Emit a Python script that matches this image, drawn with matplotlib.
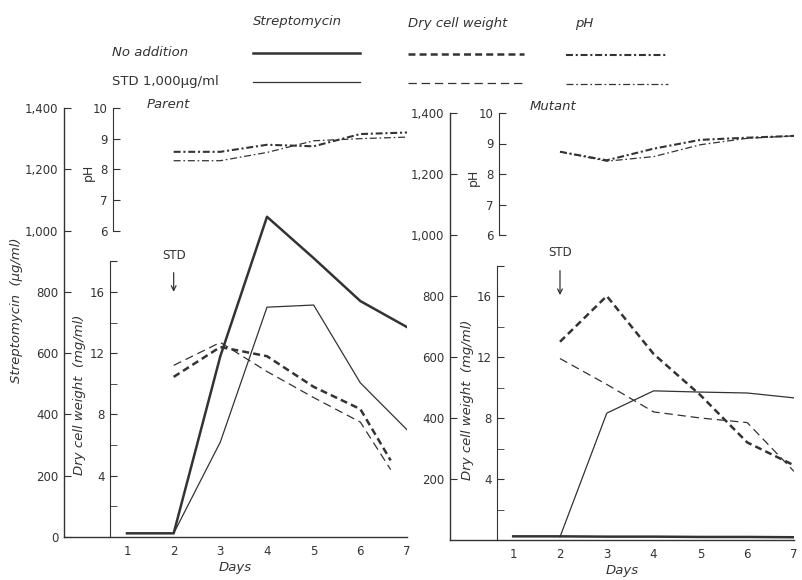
import matplotlib
matplotlib.use('Agg')
import matplotlib.pyplot as plt
from matplotlib.lines import Line2D

# ---- data ----
days = [1, 2, 3, 4, 5, 6, 7]
days_std = [2, 3, 4, 5, 6, 7]
days_dcw_parent = [2, 3, 4, 5, 6, 6.65]

parent_strep_none = [12, 12, 590, 1045, 910, 770, 685]
parent_strep_std = [12, 310, 750, 757, 503, 350]
parent_dcw_none = [10.45, 12.4, 11.8, 9.8, 8.35, 5.0]
parent_dcw_std = [11.2, 12.7, 10.8, 9.1, 7.5, 4.4]
parent_ph_none = [8.57, 8.57, 8.80, 8.75, 9.15, 9.20]
parent_ph_std = [8.28, 8.28, 8.55, 8.93, 9.00, 9.05]

mutant_strep_none = [12, 12, 11, 11, 10, 10, 9]
mutant_strep_std = [10, 416, 489, 485, 482, 466]
mutant_dcw_none = [13.0, 16.0, 12.2, 9.5, 6.4, 4.9]
mutant_dcw_std = [11.9, 10.2, 8.4, 8.0, 7.7, 4.5]
mutant_ph_none = [8.73, 8.45, 8.83, 9.12, 9.19, 9.25]
mutant_ph_std = [8.73, 8.42, 8.57, 8.96, 9.17, 9.25]

strep_ticks = [0, 200, 400, 600, 800, 1000, 1200, 1400]
dcw_ticks = [4, 8, 12, 16]
ph_ticks = [6, 7, 8, 9, 10]

INK = '#333333'
plt.rcParams['lines.scale_dashes'] = False
plt.rcParams['font.family'] = 'DejaVu Sans'

THICK, THIN = 1.8, 0.9
DASH_THICK = (0, (5, 3))
DASH_THIN = (0, (6, 3.5))
DOT_THICK = (0, (5, 2, 1.5, 2))
DOT_THIN = (0, (5, 2, 1.2, 2))

fig = plt.figure(figsize=(8.02, 5.80), dpi=100)


def setup_panel(rect, dcw_pos, ph_pos, show_zero):
    ax = fig.add_axes(rect)
    ax.set_xlim(-0.35, 7.0)
    ax.set_ylim(0, 1400)
    for s in ['top', 'right']:
        ax.spines[s].set_visible(False)
    for s in ['left', 'bottom']:
        ax.spines[s].set_color(INK)
        ax.spines[s].set_linewidth(1.0)
    ax.set_xticks(days)
    ticks = strep_ticks if show_zero else strep_ticks[1:]
    ax.set_yticks(ticks)
    ax.set_yticklabels([f'{t:,}' for t in ticks])
    ax.tick_params(axis='y', direction='in', length=5, pad=4, labelsize=8.5, colors=INK)
    ax.tick_params(axis='x', direction='in', length=0, pad=6, labelsize=8.5, colors=INK)
    ax.set_xlabel('Days', fontsize=9.5, style='italic', color=INK, labelpad=2)

    ax_dcw = ax.twinx()
    ax_dcw.set_ylim(0, 28)
    for s in ['top', 'right', 'bottom']:
        ax_dcw.spines[s].set_visible(False)
    ax_dcw.spines['left'].set_visible(True)
    ax_dcw.spines['left'].set_position(('axes', dcw_pos))
    ax_dcw.spines['left'].set_bounds(0, 18)
    ax_dcw.spines['left'].set_color(INK)
    ax_dcw.yaxis.set_ticks_position('left')
    ax_dcw.set_yticks(dcw_ticks + [18])
    ax_dcw.set_yticklabels([str(t) for t in dcw_ticks] + [''])
    ax_dcw.set_yticks([2, 6, 10, 14], minor=True)
    ax_dcw.tick_params(axis='y', which='both', direction='in', length=5, pad=4,
                       labelsize=8.5, colors=INK)

    ax_ph = ax.twinx()
    ax_ph.set_ylim(-4, 10)
    for s in ['top', 'right', 'bottom']:
        ax_ph.spines[s].set_visible(False)
    ax_ph.spines['left'].set_visible(True)
    ax_ph.spines['left'].set_position(('axes', ph_pos))
    ax_ph.spines['left'].set_bounds(6, 10)
    ax_ph.spines['left'].set_color(INK)
    ax_ph.yaxis.set_ticks_position('left')
    ax_ph.set_yticks(ph_ticks)
    ax_ph.tick_params(axis='y', direction='in', length=5, pad=4, labelsize=8.5, colors=INK)
    return ax, ax_dcw, ax_ph


# ---- Parent ----
axL, dcwL, phL = setup_panel([64 / 802, 43 / 580, 343 / 802, 429 / 580], 0.134, 0.143, True)
axL.plot(days, parent_strep_none, color=INK, lw=THICK)
axL.plot(days_std, parent_strep_std, color=INK, lw=THIN)
dcwL.plot(days_dcw_parent, parent_dcw_none, color=INK, lw=THICK, ls=DASH_THICK)
dcwL.plot(days_dcw_parent, parent_dcw_std, color=INK, lw=THIN, ls=DASH_THIN)
phL.plot(days_std, parent_ph_none, color=INK, lw=1.5, ls=DOT_THICK)
phL.plot(days_std, parent_ph_std, color=INK, lw=THIN, ls=DOT_THIN)
axL.text(1.43, 1413, 'Parent', fontsize=9.5, style='italic', color=INK, va='center')
axL.annotate('STD', xy=(2, 800), xytext=(2, 920), ha='center', va='center',
             fontsize=8.5, color=INK,
             arrowprops=dict(arrowstyle='->', color=INK, lw=0.9, shrinkA=6, shrinkB=0))

# ---- Mutant ----
axR, dcwR, phR = setup_panel([450 / 802, 40 / 580, 344 / 802, 427 / 580], 0.137, 0.142, False)
axR.plot(days, mutant_strep_none, color=INK, lw=THICK)
axR.plot(days_std, mutant_strep_std, color=INK, lw=THIN)
dcwR.plot(days_std, mutant_dcw_none, color=INK, lw=THICK, ls=DASH_THICK)
dcwR.plot(days_std, mutant_dcw_std, color=INK, lw=THIN, ls=DASH_THIN)
phR.plot(days_std, mutant_ph_none, color=INK, lw=1.5, ls=DOT_THICK)
phR.plot(days_std, mutant_ph_std, color=INK, lw=THIN, ls=DOT_THIN)
axR.text(1.36, 1420, 'Mutant', fontsize=9.5, style='italic', color=INK, va='center')
axR.annotate('STD', xy=(2, 803), xytext=(2, 941), ha='center', va='center',
             fontsize=8.5, color=INK,
             arrowprops=dict(arrowstyle='->', color=INK, lw=0.9, shrinkA=6, shrinkB=0))

# ---- axis titles ----
fig.text(17 / 802, 1 - 310 / 580, 'Streptomycin  (\u00b5g/ml)', rotation=90, ha='center',
         va='center', fontsize=9.5, style='italic', color=INK)
fig.text(80 / 802, 1 - 395 / 580, 'Dry cell weight  (mg/ml)', rotation=90, ha='center',
         va='center', fontsize=9.5, style='italic', color=INK)
fig.text(88 / 802, 1 - 172 / 580, 'pH', rotation=90, ha='center', va='center',
         fontsize=9, color=INK)
fig.text(468 / 802, 1 - 400 / 580, 'Dry cell weight  (mg/ml)', rotation=90, ha='center',
         va='center', fontsize=9.5, style='italic', color=INK)
fig.text(473 / 802, 1 - 177 / 580, 'pH', rotation=90, ha='center', va='center',
         fontsize=9, color=INK)

# ---- legend block at the top ----
lax = fig.add_axes([0, 0, 1, 1], zorder=-1)
lax.set_xlim(0, 802)
lax.set_ylim(580, 0)
lax.axis('off')
lax.text(253, 21, 'Streptomycin', fontsize=9.5, style='italic', color=INK, va='center')
lax.text(408, 23, 'Dry cell weight', fontsize=9.5, style='italic', color=INK, va='center')
lax.text(575, 23, 'pH', fontsize=9.5, style='italic', color=INK, va='center')
lax.text(112, 53, 'No addition', fontsize=9.5, style='italic', color=INK, va='center')
lax.text(112, 81, 'STD 1,000\u00b5g/ml', fontsize=9.5, color=INK, va='center')
legend_rows = [
    (53, THICK, '-', 1.5, DASH_THICK, DOT_THICK),
    (82, THIN, '-', THIN, DASH_THIN, DOT_THIN),
]
for y, lw, ls, lwp, dls, pls in legend_rows:
    lax.add_line(Line2D([253, 360], [y, y], color=INK, lw=lw, ls=ls))
    lax.add_line(Line2D([408, 524], [y + 1, y + 1], color=INK, lw=lw, ls=dls))
    lax.add_line(Line2D([566, 668], [y + 2, y + 2], color=INK, lw=lwp, ls=pls))

fig.savefig('out.png', dpi=100, facecolor='white')
